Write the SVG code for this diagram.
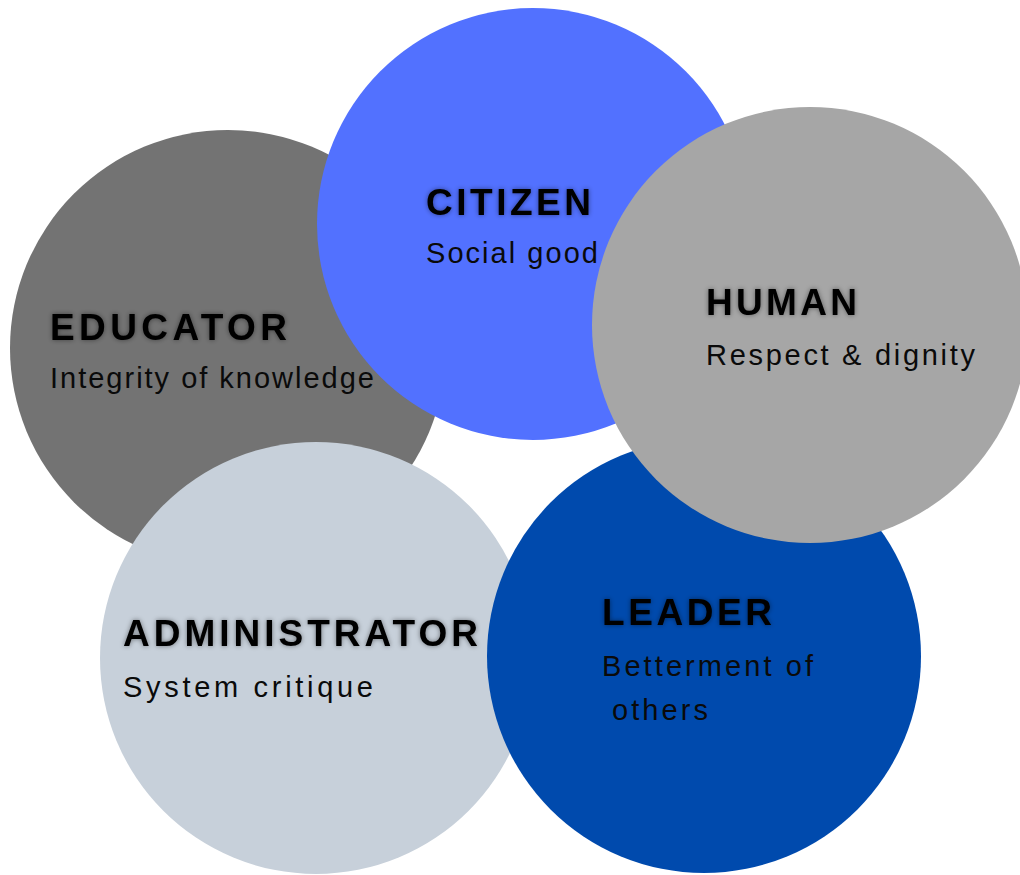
<svg xmlns="http://www.w3.org/2000/svg" width="1020" height="875" viewBox="0 0 1020 875">
  <defs>
    <filter id="glow" x="-10%" y="-40%" width="120%" height="180%">
      <feGaussianBlur in="SourceAlpha" stdDeviation="2.5" result="b"/>
      <feFlood flood-color="#000" flood-opacity="0.45"/>
      <feComposite in2="b" operator="in" result="s"/>
      <feMerge>
        <feMergeNode in="s"/>
        <feMergeNode in="SourceGraphic"/>
      </feMerge>
    </filter>
  </defs>
  <style>
    .title { font-family: "Liberation Sans", Arial, sans-serif; font-weight: 700; font-size: 37px; fill: #050505; filter: url(#glow); }
    .sub { font-family: "Liberation Sans", Arial, sans-serif; font-weight: 400; font-size: 29px; fill: #0a0a0a; }
  </style>
  <rect width="1020" height="875" fill="#ffffff"/>

  <g id="educator">
    <circle cx="228" cy="348" r="218" fill="#737373"/>
    <text class="title" x="50" y="340" textLength="237" lengthAdjust="spacing">EDUCATOR</text>
    <text class="sub" x="50" y="388" textLength="324" lengthAdjust="spacing">Integrity of knowledge</text>
  </g>

  <g id="citizen">
    <circle cx="533" cy="224" r="216" fill="#5271ff"/>
    <text class="title" x="426" y="215" textLength="165" lengthAdjust="spacing">CITIZEN</text>
    <text class="sub" x="426" y="263" textLength="172" lengthAdjust="spacing">Social good</text>
  </g>

  <g id="administrator">
    <circle cx="316" cy="658" r="216" fill="#c7d0da"/>
    <text class="title" x="123" y="646" textLength="355" lengthAdjust="spacing">ADMINISTRATOR</text>
    <text class="sub" x="123" y="697" textLength="250" lengthAdjust="spacing">System critique</text>
  </g>

  <g id="leader">
    <circle cx="704" cy="656" r="217" fill="#004aad"/>
    <text class="title" x="602" y="625" textLength="170" lengthAdjust="spacing">LEADER</text>
    <text class="sub" x="602" y="676" textLength="211" lengthAdjust="spacing">Betterment of</text>
    <text class="sub" x="612" y="720" textLength="96" lengthAdjust="spacing">others</text>
  </g>

  <g id="human">
    <circle cx="810" cy="325" r="218" fill="#a6a6a6"/>
    <text class="title" x="706" y="315" textLength="151" lengthAdjust="spacing">HUMAN</text>
    <text class="sub" x="706" y="365" textLength="269" lengthAdjust="spacing">Respect &amp; dignity</text>
  </g>

  <g id="connectors"/>
</svg>
